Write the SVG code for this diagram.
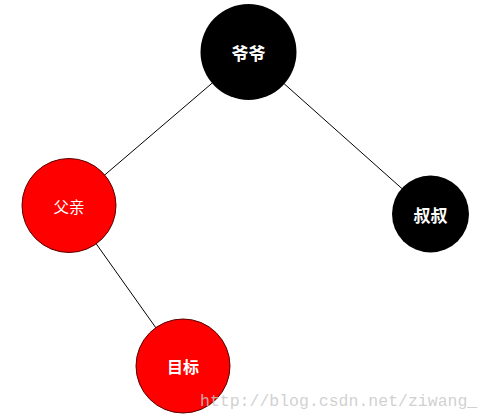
<svg xmlns="http://www.w3.org/2000/svg" width="491" height="420" viewBox="0 0 491 420">
<style>
.edge{stroke:#000;stroke-width:1;fill:none}
.black{fill:#000}
.red{fill:#ff0000;stroke:#5a0000;stroke-width:1}
.lbl{fill:#fff;font-family:"Noto Sans CJK SC","Noto Sans CJK JP",sans-serif;font-size:15px;text-anchor:middle;dominant-baseline:central}
.b{font-weight:bold}
.wm{fill:#c8c8c8;fill-opacity:0.85;font-family:"Liberation Mono",monospace;font-size:16.5px}
</style>
<rect width="491" height="420" fill="#fff"/>
<g id="connectors">
<line class="edge" x1="248.5" y1="52" x2="69" y2="205.5"/>
<line class="edge" x1="248.5" y1="52" x2="430.5" y2="214"/>
<line class="edge" x1="69" y1="205.5" x2="183" y2="366"/>
</g>
<g id="yeye">
<circle class="black" cx="248.5" cy="52" r="48"/>
<text class="lbl b" x="248.5" y="52" style="font-size:17px">爷爷</text>
</g>
<g id="fuqin">
<circle class="red" cx="69" cy="205.5" r="47"/>
<text class="lbl" x="69" y="205.5" style="font-size:15.5px">父亲</text>
</g>
<g id="shushu">
<circle class="black" cx="430.5" cy="214" r="38.5"/>
<text class="lbl b" x="430.5" y="214" style="font-size:17px">叔叔</text>
</g>
<g id="mubiao">
<circle class="red" cx="183" cy="366" r="47"/>
<text class="lbl b" x="183" y="366" style="font-size:16px">目标</text>
</g>
<text class="wm" x="200" y="406">http://blog.csdn.net/ziwang_</text>
</svg>
